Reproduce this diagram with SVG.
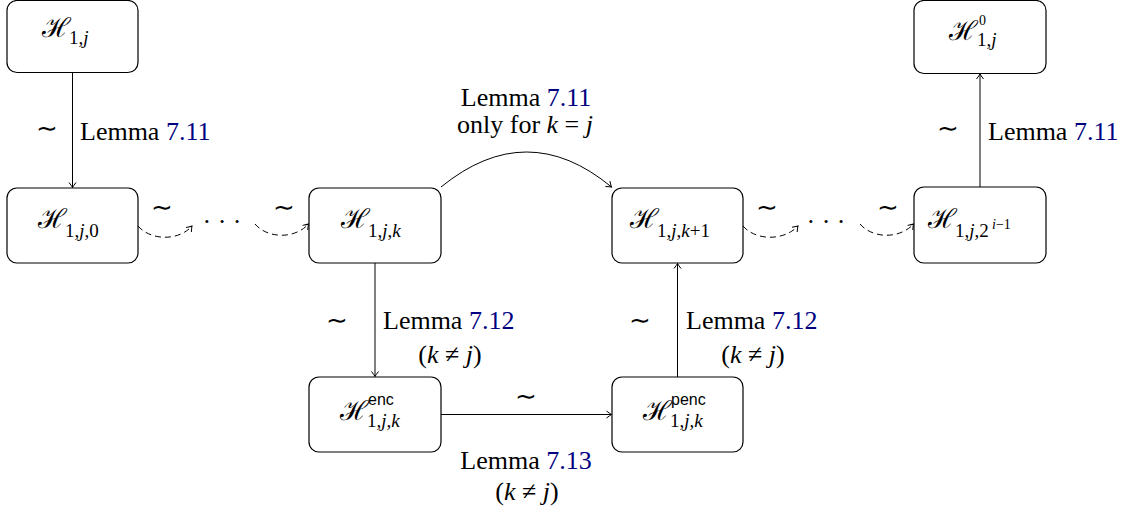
<svg xmlns="http://www.w3.org/2000/svg" width="1131" height="518" viewBox="0 0 1131 518">
<style>
text{font-family:'Liberation Serif','Times New Roman',serif}
.node rect{fill:#fff;stroke:#000;stroke-width:1.2}
.H{font-size:27px}
.sub{font-size:19px}
.sup{font-size:14px}
.sf{font-family:'Liberation Sans',sans-serif;font-size:16px}
.it{font-style:italic}
.lbl{font-size:26px}
.lnk{fill:#000080}
.c{fill:none;stroke:#000;stroke-width:1}
.d{stroke-dasharray:6 4}
</style>
<defs>
<marker id="ar" markerUnits="userSpaceOnUse" markerWidth="12" markerHeight="12" refX="0" refY="0" viewBox="-8 -6 10 12" orient="auto">
<path d="M-5,-3.5 Q-1.5,-0.8 0,0 Q-1.5,0.8 -5,3.5" fill="none" stroke="#000" stroke-width="1"/>
</marker>
</defs>
<g id="connectors">
<line class="c" x1="72.5" y1="73" x2="72.5" y2="187.5" marker-end="url(#ar)"/>
<line class="c" x1="980" y1="187" x2="980" y2="74" marker-end="url(#ar)"/>
<line class="c" x1="375" y1="263" x2="375" y2="376.5" marker-end="url(#ar)"/>
<line class="c" x1="677.5" y1="377" x2="677.5" y2="263.5" marker-end="url(#ar)"/>
<line class="c" x1="441" y1="414.5" x2="611.5" y2="414.5" marker-end="url(#ar)"/>
<path class="c" d="M441,187 Q527,117 611.5,187" marker-end="url(#ar)"/>
<path class="c d" d="M138,226 C151,241 179,241 192,226" marker-end="url(#ar)"/>
<path class="c d" d="M255,224 C268,239 295,239 308.5,224" marker-end="url(#ar)"/>
<path class="c d" d="M743,226 C756,241 784,241 798,226" marker-end="url(#ar)"/>
<path class="c d" d="M860,224 C873,239 900,239 913.5,224" marker-end="url(#ar)"/>
<text class="lbl" x="47" y="137" text-anchor="middle">∼</text>
<text class="lbl" x="80" y="140">Lemma <tspan class="lnk">7.11</tspan></text>
<text class="lbl" x="948" y="137" text-anchor="middle">∼</text>
<text class="lbl" x="988" y="140">Lemma <tspan class="lnk">7.11</tspan></text>
<text class="lbl" x="337" y="329" text-anchor="middle">∼</text>
<text class="lbl" x="383" y="329">Lemma <tspan class="lnk">7.12</tspan></text>
<text class="lbl" x="450" y="363" text-anchor="middle">(<tspan class="it">k</tspan> ≠ <tspan class="it">j</tspan>)</text>
<text class="lbl" x="640" y="329" text-anchor="middle">∼</text>
<text class="lbl" x="686" y="329">Lemma <tspan class="lnk">7.12</tspan></text>
<text class="lbl" x="753" y="363" text-anchor="middle">(<tspan class="it">k</tspan> ≠ <tspan class="it">j</tspan>)</text>
<text class="lbl" x="526" y="405" text-anchor="middle">∼</text>
<text class="lbl" x="526" y="469" text-anchor="middle">Lemma <tspan class="lnk">7.13</tspan></text>
<text class="lbl" x="527" y="500" text-anchor="middle">(<tspan class="it">k</tspan> ≠ <tspan class="it">j</tspan>)</text>
<text class="lbl" x="526" y="106" text-anchor="middle">Lemma <tspan class="lnk">7.11</tspan></text>
<text class="lbl" x="525" y="133" text-anchor="middle">only for <tspan class="it">k</tspan> = <tspan class="it">j</tspan></text>
<text class="lbl" x="162" y="216" text-anchor="middle">∼</text>
<text class="lbl" x="284" y="216" text-anchor="middle">∼</text>
<text class="lbl" x="767" y="216" text-anchor="middle">∼</text>
<text class="lbl" x="888" y="216" text-anchor="middle">∼</text>
<text class="lbl" x="222" y="230" text-anchor="middle">· · ·</text>
<text class="lbl" x="826" y="230" text-anchor="middle">· · ·</text>
</g>
<g id="n1" class="node">
<rect x="7" y="0.5" width="131" height="72" rx="10"/>
<text class="H" x="42" y="37">ℋ</text>
<text class="sub" x="69" y="44">1,<tspan class="it">j</tspan></text>
</g>
<g id="n2" class="node">
<rect x="7" y="188" width="131" height="75" rx="10"/>
<text class="H" x="38" y="228">ℋ</text>
<text class="sub" x="65" y="237">1,<tspan class="it">j</tspan>,0</text>
</g>
<g id="n3" class="node">
<rect x="309" y="188" width="132" height="75" rx="10"/>
<text class="H" x="341" y="228">ℋ</text>
<text class="sub" x="368" y="237">1,<tspan class="it">j</tspan>,<tspan class="it">k</tspan></text>
</g>
<g id="n4" class="node">
<rect x="612" y="188" width="131" height="75" rx="10"/>
<text class="H" x="630" y="228">ℋ</text>
<text class="sub" x="657" y="237">1,<tspan class="it">j</tspan>,<tspan class="it">k</tspan>+1</text>
</g>
<g id="n5" class="node">
<rect x="914" y="187" width="132" height="76" rx="10"/>
<text class="H" x="928" y="228">ℋ</text>
<text class="sub" x="955" y="237">1,<tspan class="it">j</tspan>,2</text>
<text class="sup" x="992" y="229"><tspan class="it">i</tspan>−1</text>
</g>
<g id="n6" class="node">
<rect x="914" y="0.5" width="132" height="73" rx="10"/>
<text class="H" x="949" y="40">ℋ</text>
<text class="sup" x="979" y="25">0</text>
<text class="sub" x="977" y="46">1,<tspan class="it">j</tspan></text>
</g>
<g id="n7" class="node">
<rect x="309" y="377" width="132" height="75" rx="10"/>
<text class="H" x="340" y="420">ℋ</text>
<text class="sf" x="368" y="405">enc</text>
<text class="sub" x="367" y="427">1,<tspan class="it">j</tspan>,<tspan class="it">k</tspan></text>
</g>
<g id="n8" class="node">
<rect x="612" y="377" width="131" height="75" rx="10"/>
<text class="H" x="643" y="420">ℋ</text>
<text class="sf" x="671" y="405">penc</text>
<text class="sub" x="670" y="427">1,<tspan class="it">j</tspan>,<tspan class="it">k</tspan></text>
</g>
</svg>
